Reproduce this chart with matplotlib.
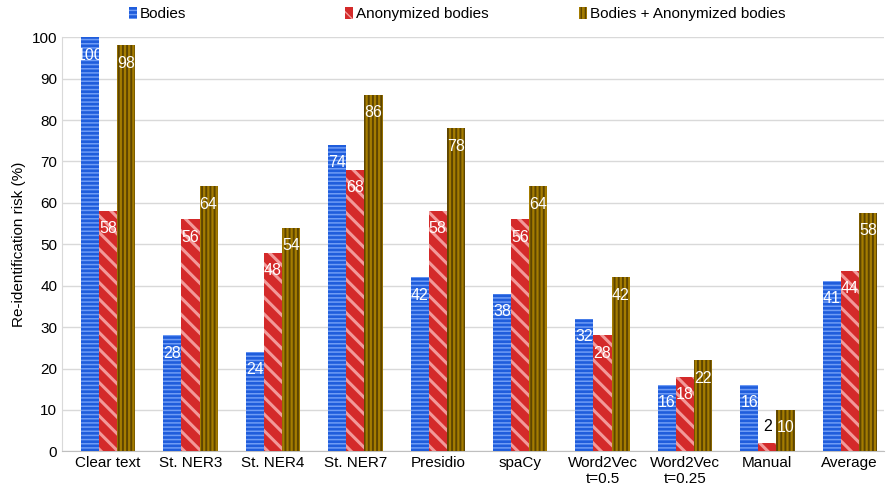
import numpy as np
import matplotlib
matplotlib.use("Agg")
import matplotlib.pyplot as plt
from matplotlib.patches import Patch

plt.rcParams['font.family'] = ['Liberation Sans', 'DejaVu Sans']

methods = ["Clear text", "St. NER3", "St. NER4", "St. NER7", "Presidio", "spaCy",
           "Word2Vec\nt=0.5", "Word2Vec\nt=0.25", "Manual"]
bodies = [100, 28, 24, 74, 42, 38, 32, 16, 16]
anon_bodies = [58, 56, 48, 68, 58, 56, 28, 18, 2]
both = [98, 64, 54, 86, 78, 64, 42, 22, 10]

# append the average over all methods
categories = methods + ["Average"]
series = [
    ("Bodies", bodies + [np.mean(bodies)], "#1f5ddc", "#6f9cf5", "----", 1.1),
    ("Anonymized bodies", anon_bodies + [np.mean(anon_bodies)], "#d42a2a", "#f29a9a", "\\\\", 2.2),
    ("Bodies + Anonymized bodies", both + [np.mean(both)], "#a47c00", "#5e4500", "||||", 1.4),
]


def hatched(artist, lw):
    if hasattr(artist, "set_hatch_linewidth"):
        artist.set_hatch_linewidth(lw)


fig, ax = plt.subplots(figsize=(8.88, 4.96), dpi=100)
fig.subplots_adjust(left=0.07, right=0.995, top=0.925, bottom=0.09)

x = np.arange(len(categories))
w = 0.22
for i, (name, vals, fc, hc, hatch, hlw) in enumerate(series):
    pos = x + (i - 1) * w
    with plt.rc_context({"hatch.linewidth": hlw}):
        bars = ax.bar(pos, vals, w, color=fc, edgecolor=hc, hatch=hatch,
                      linewidth=0, label=name, zorder=3)
    for b, v in zip(bars, vals):
        hatched(b, hlw)
        cx = b.get_x() + b.get_width() / 2
        if v < 6:
            ax.text(cx, v + 4, f"{v:.0f}", ha="center", va="center",
                    fontsize=11.5, color="black", zorder=4)
        else:
            ax.text(cx, v - 4.3, f"{v:.0f}", ha="center", va="center",
                    fontsize=11.5, color="white", zorder=4)

ax.set_ylim(0, 100)
ax.set_xlim(-0.558, 9.41)
ax.set_yticks(range(0, 101, 10))
ax.set_xticks(x)
ax.set_xticklabels(categories, fontsize=11)
ax.tick_params(axis="y", labelsize=11, length=0)
ax.tick_params(axis="x", length=0)
ax.set_ylabel("Re-identification risk (%)", fontsize=11)
ax.yaxis.grid(True, color="#d9d9d9", linewidth=1, zorder=0)
for s in ["top", "right"]:
    ax.spines[s].set_visible(False)
ax.spines["left"].set_color("#d9d9d9")
ax.spines["bottom"].set_color("#bfbfbf")

# one legend entry per slot, spread across the top
legend_x = [129 / 888, 345 / 888, 579 / 888]
for (name, vals, fc, hc, hatch, hlw), lx in zip(series, legend_x):
    with plt.rc_context({"hatch.linewidth": hlw}):
        h = Patch(facecolor=fc, edgecolor=hc, hatch=hatch, linewidth=0)
    hatched(h, hlw)
    fig.legend([h], [name], loc="center left", bbox_to_anchor=(lx, 0.971),
               frameon=False, fontsize=11, handlelength=0.5, handleheight=0.8,
               handletextpad=0.2, borderpad=0, borderaxespad=0)

fig.savefig("out.png", dpi=100)
